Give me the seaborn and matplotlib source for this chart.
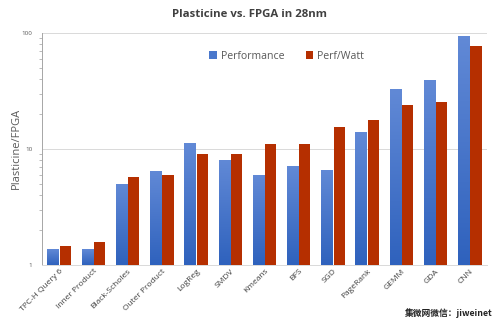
import numpy as np
import pandas as pd
import matplotlib
matplotlib.use("Agg")
import matplotlib.pyplot as plt
import seaborn as sns
from matplotlib.ticker import FixedLocator, NullFormatter, LogLocator
from matplotlib.colors import LinearSegmentedColormap, to_rgba

categories = ["TPC-H Query 6", "Inner Product", "Black-Scholes", "Outer Product",
              "LogReg", "SMDV", "Kmeans", "BFS", "SGD", "PageRank", "GEMM", "GDA", "CNN"]
performance = [1.37, 1.37, 5.0, 6.5, 11.2, 8.1, 6.0, 7.1, 6.6, 13.9, 32.6, 39.6, 94.0]
perf_watt = [1.46, 1.57, 5.7, 6.0, 9.0, 9.1, 11.0, 11.1, 15.5, 17.8, 24.1, 25.6, 76.6]
series_names = ["Performance", "Perf/Watt"]

df = pd.DataFrame({
    "category": categories * 2,
    "value": performance + perf_watt,
    "series": [series_names[0]] * len(categories) + [series_names[1]] * len(categories),
})

sns.set_style("white")
plt.rcParams["font.family"] = ["Open Sans", "Noto Sans CJK SC", "DejaVu Sans"]

fig = plt.figure(figsize=(5.0, 3.23), dpi=100)
ax = fig.add_axes([0.084, 0.180, 0.890, 0.718])

blue = "#4a78cc"
red = "#b52f00"
palette = {"Performance": blue, "Perf/Watt": red}
sns.barplot(data=df, x="category", y="value", hue="series", palette=palette,
            width=0.72, gap=0.09, ax=ax, saturation=1, errorbar=None,
            edgecolor="none")

ax.set_yscale("log")
ax.set_ylim(1, 100)
ax.set_xlim(-0.5, len(categories) - 0.5)
ax.yaxis.set_major_locator(FixedLocator([1, 10, 100]))
ax.set_yticklabels(["1", "10", "100"])
ax.yaxis.set_minor_locator(LogLocator(base=10, subs=np.arange(2, 10)))
ax.yaxis.set_minor_formatter(NullFormatter())
ax.tick_params(axis="y", which="major", length=3, width=0.6, color="#a0a0a0",
               labelsize=4.5, labelcolor="#595959", pad=4)
ax.tick_params(axis="y", which="minor", length=2, width=0.5, color="#a0a0a0", left=True)
ax.tick_params(axis="x", length=0, labelsize=6, labelcolor="#404040", pad=2)
for lab in ax.get_xticklabels():
    lab.set_rotation(45)
    lab.set_ha("right")
    lab.set_rotation_mode("anchor")

ax.yaxis.grid(True, which="major", color="#d9d9d9", linewidth=0.7)
ax.set_axisbelow(True)
for s in ["top", "right"]:
    ax.spines[s].set_visible(False)
ax.spines["left"].set_color("#a6a6a6")
ax.spines["left"].set_linewidth(0.7)
ax.spines["bottom"].set_color("#d9d9d9")
ax.spines["bottom"].set_linewidth(0.7)

ax.set_xlabel("")
ax.set_ylabel("Plasticine/FPGA", fontsize=8, color="#595959", labelpad=0)

ax.legend(loc="center", bbox_to_anchor=(0.55, 0.90), ncol=2, frameon=False,
          fontsize=7.6, handlelength=0.7, handleheight=0.7, columnspacing=2.0,
          handletextpad=0.4, labelcolor="#595959")

# vertical gradient on blue bars
fig.canvas.draw()
grad_cmap = LinearSegmentedColormap.from_list("g", ["#2f62bd", "#6189d6"])
grad = np.linspace(0, 1, 64).reshape(-1, 1)
inv = ax.transAxes.inverted()
for p in list(ax.patches):
    fc = p.get_facecolor()
    if np.allclose(fc[:3], to_rgba(blue)[:3], atol=0.02):
        bb = p.get_window_extent().transformed(inv)
        y0 = max(bb.y0, 0.0)
        y1 = min(bb.y1, 1.0)
        im = ax.imshow(grad, cmap=grad_cmap, aspect="auto", origin="lower",
                       extent=(bb.x0, bb.x1, y0, y1), transform=ax.transAxes,
                       zorder=p.get_zorder() + 0.1, interpolation="bilinear")
        im.set_clip_path(p)
ax.set_xlim(-0.5, len(categories) - 0.5)
ax.set_ylim(1, 100)

fig.text(0.5, 0.955, "Plasticine vs. FPGA in 28nm", ha="center", va="center",
         fontsize=8.2, fontweight="bold", color="#404040")
fig.text(0.985, 0.03, "集微网微信：jiweinet", ha="right", va="center",
         fontsize=6.3, color="#222222", fontweight="bold",
         family=["Noto Sans CJK SC", "DejaVu Sans"])

fig.savefig("out.png", dpi=100, facecolor="white")
